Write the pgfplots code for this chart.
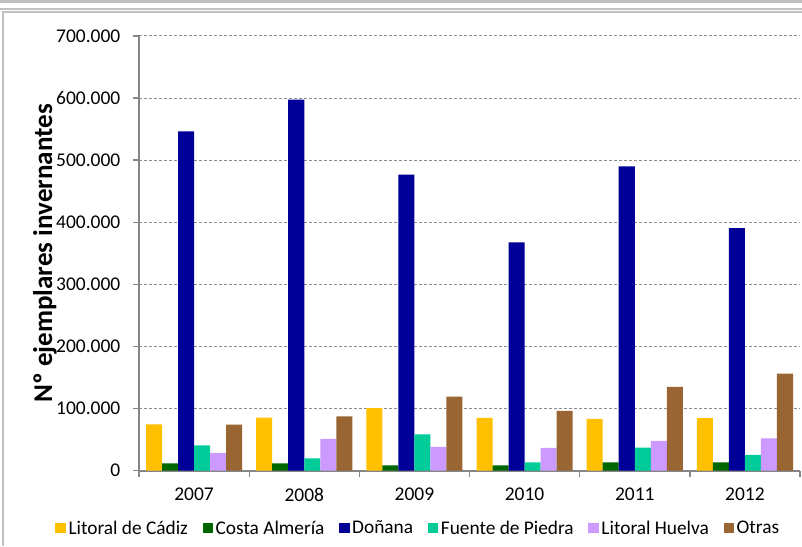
\documentclass[border=0pt]{standalone}
\usepackage{pgfplots}
\pgfplotsset{compat=1.18}
\usepackage{fontspec}
\setmainfont{Carlito}
\definecolor{cCadiz}{HTML}{FFC000}
\definecolor{cAlmeria}{HTML}{006600}
\definecolor{cDonana}{HTML}{000099}
\definecolor{cFuente}{HTML}{00CC99}
\definecolor{cHuelva}{HTML}{CC99FF}
\definecolor{cOtras}{HTML}{996633}
\definecolor{frameg}{HTML}{C0C0C0}
\definecolor{axg}{HTML}{868686}
\definecolor{gridg}{HTML}{8C8C8C}
\begin{document}
\begin{tikzpicture}
\useasboundingbox (0pt,0pt) rectangle (601.5pt,409.5pt);
% outer decoration
\fill[frameg] (0pt,409.5pt) rectangle (601.5pt,407.5pt);
\fill[frameg] (0pt,403.75pt) rectangle (601.5pt,402.25pt);
\fill[frameg] (1.5pt,401.25pt) rectangle (601.5pt,400pt);
\fill[frameg] (1.5pt,0pt) rectangle (3pt,401.25pt);
\begin{axis}[
  at={(104.25pt,56.625pt)}, anchor=south west,
  scale only axis,
  width=495.75pt, height=325.875pt,
  ybar,
  bar width=0.14545,
  xmin=-0.5, xmax=5.5,
  ymin=0, ymax=700000,
  xtick={0,1,2,3,4,5},
  xticklabels={2007,2008,2009,2010,2011,2012},
  minor xtick={-0.5,0.5,1.5,2.5,3.5,4.5,5.5},
  ytick={0,100000,200000,300000,400000,500000,600000,700000},
  scaled y ticks=false,
  yticklabel={\pgfmathprintnumber[fixed,precision=0,1000 sep={.},assume math mode=true]{\tick}},
  axis lines=left,
  axis line style={-, draw=axg, line width=1.5pt},
  tick align=outside,
  major tick length=4.5pt,
  minor tick length=4.5pt,
  x tick style={draw=none},
  minor x tick style={draw=axg, line width=1pt},
  y tick style={draw=axg, line width=1pt},
  ymajorgrids,
  major grid style={draw=gridg, line width=0.75pt, dash pattern=on 2.25pt off 1.5pt},
  tick label style={font=\fontsize{14.6}{17}\selectfont, text=black},
  xticklabel style={yshift=-5pt},
  yticklabel style={xshift=-6pt},
  ylabel={Nº ejemplares invernantes},
  every axis y label/.style={at={(axis description cs:-0.1422,0.50)}, rotate=90, anchor=center, font=\fontsize{20.3}{23}\selectfont\bfseries},
  legend columns=6,
  legend style={at={(axis description cs:0.423,-0.133)}, anchor=center, draw=none, fill=none,
     font=\fontsize{14.5}{16}\selectfont,
     /tikz/every even column/.append style={column sep=9pt}},
  legend image code/.code={\fill[#1] (0pt,-3.9pt) rectangle (7.8pt,3.9pt);},
]
\addplot[fill=cCadiz, draw=none, bar shift=-0.36364] coordinates {(0,74500) (1,85200) (2,100300) (3,84700) (4,83000) (5,84200)};
\addplot[fill=cAlmeria, draw=none, bar shift=-0.21818] coordinates {(0,11600) (1,11600) (2,8400) (3,8400) (4,13200) (5,13200)};
\addplot[fill=cDonana, draw=none, bar shift=-0.07273] coordinates {(0,546500) (1,597600) (2,476600) (3,367400) (4,490000) (5,390600)};
\addplot[fill=cFuente, draw=none, bar shift=0.07273] coordinates {(0,40600) (1,19700) (2,58400) (3,13200) (4,36800) (5,25000)};
\addplot[fill=cHuelva, draw=none, bar shift=0.21818] coordinates {(0,28200) (1,50800) (2,37900) (3,36300) (4,47600) (5,51900)};
\addplot[fill=cOtras, draw=none, bar shift=0.36364] coordinates {(0,73900) (1,87400) (2,119000) (3,96000) (4,134700) (5,156100)};
\legend{Litoral de Cádiz, Costa Almería, Doñana, Fuente de Piedra, Litoral Huelva, Otras}
\end{axis}
\end{tikzpicture}
\end{document}
